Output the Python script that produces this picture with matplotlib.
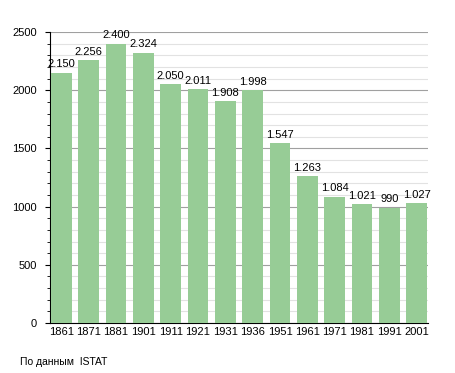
import numpy as np
import matplotlib.pyplot as plt
from matplotlib.ticker import MultipleLocator

years = ['1861', '1871', '1881', '1901', '1911', '1921', '1931', '1936',
         '1951', '1961', '1971', '1981', '1991', '2001']
population = [2150, 2256, 2400, 2324, 2050, 2011, 1908, 1998,
              1547, 1263, 1084, 1021, 990, 1027]

plt.rcParams['font.family'] = ['Liberation Sans', 'DejaVu Sans']

fig = plt.figure(figsize=(4.55, 3.73), dpi=100)
ax = fig.add_axes([0.110, 0.134, 0.831, 0.780])

x = np.arange(len(years))
ax.bar(x, population, width=0.75, color='#97cc96', zorder=3)

for xi, v in zip(x, population):
    label = f'{v:,}'.replace(',', '.')
    ax.annotate(label, (xi, v), xytext=(0, 2.5), textcoords='offset points',
                ha='center', va='bottom', fontsize=8, zorder=4)

ax.set_xlim(-0.41, len(years) - 0.58)
ax.set_ylim(0, 2500)
ax.set_xticks(x)
ax.set_xticklabels(years, fontsize=8)
ax.yaxis.set_major_locator(MultipleLocator(500))
ax.yaxis.set_minor_locator(MultipleLocator(100))
ax.tick_params(axis='y', labelsize=8, length=3.5, pad=6)
ax.tick_params(axis='y', which='minor', length=2)
ax.tick_params(axis='x', length=0, pad=3)
ax.grid(True, axis='y', which='major', color='#a0a0a0', linewidth=0.8, zorder=0)
ax.grid(True, axis='y', which='minor', color='#e2e2e2', linewidth=0.8, zorder=0)
ax.spines['top'].set_visible(False)
ax.spines['right'].set_visible(False)

fig.text(20 / 455, 1 - 362 / 373, 'По данным  ISTAT', fontsize=7.5, va='center')

fig.savefig('out.png', dpi=100)
